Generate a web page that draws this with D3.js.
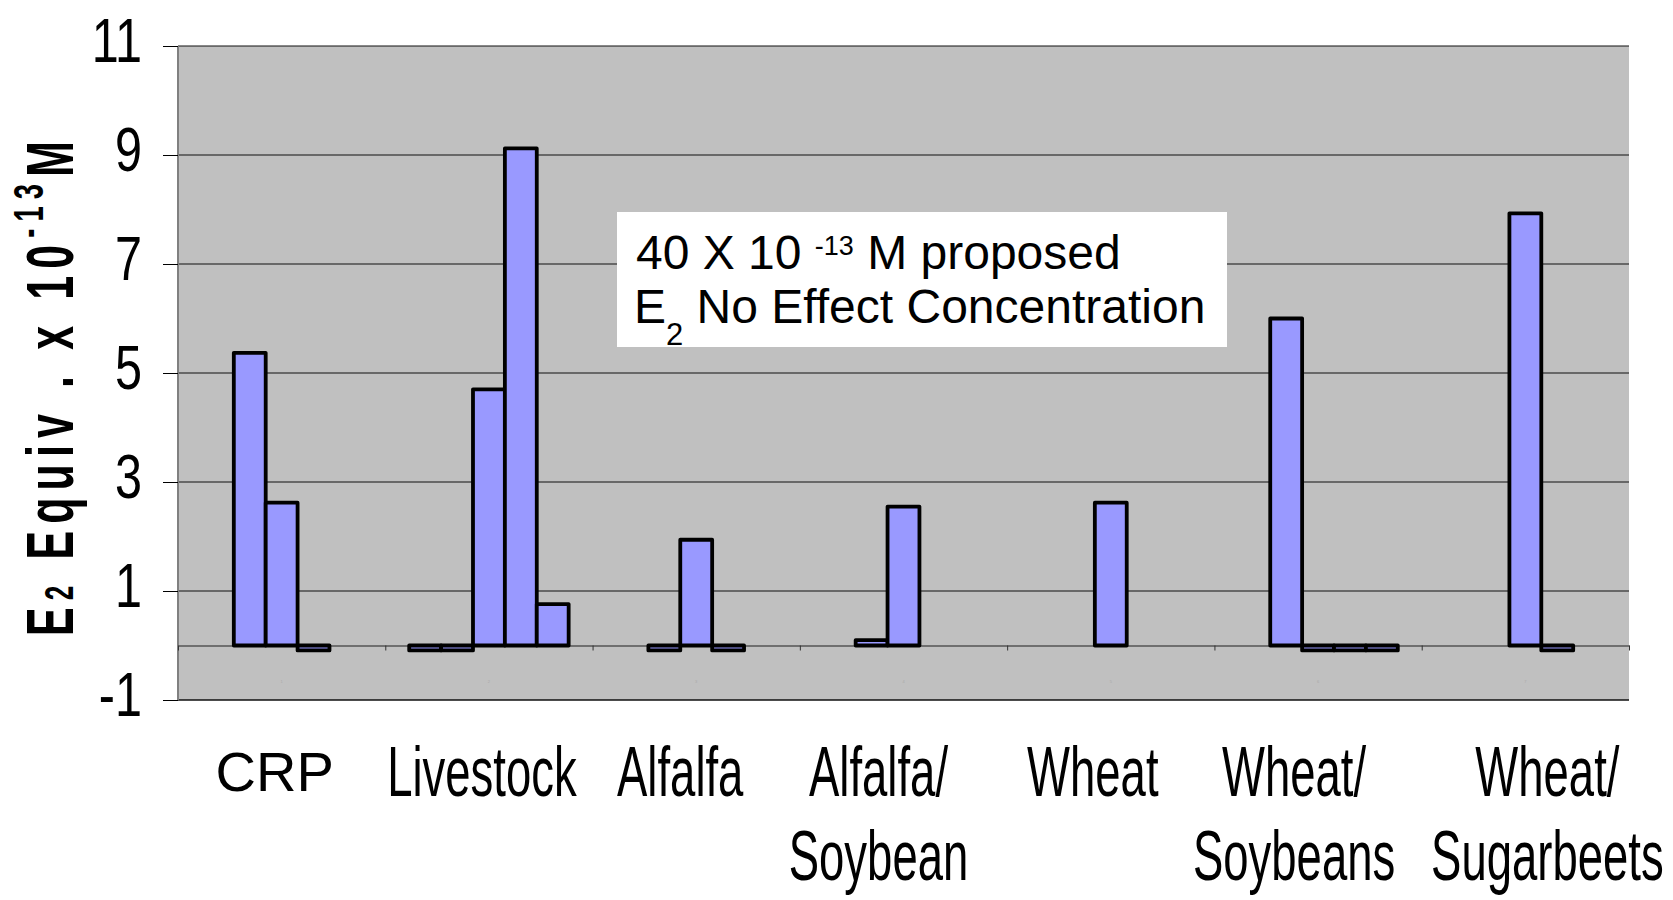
<!DOCTYPE html>
<html>
<head>
<meta charset="utf-8">
<script src="https://cdn.jsdelivr.net/npm/d3@7/dist/d3.min.js"></script>
<style>
    body { margin: 0; background: #fff; }
    text { font-family: "Liberation Sans", Arial, sans-serif; }
</style>
</head>
<body>
<div id="chart"></div>
<script>
// categories along the bottom, one entry per cluster
var categories = ["CRP", "Livestock", "Alfalfa", "Alfalfa/\nSoybean", "Wheat", "Wheat/\nSoybeans", "Wheat/\nSugarbeets"];

// five sample series, null = no bar in that slot
var sample1 = [null, -0.09, null, null, null, null, null];
var sample2 = [5.37, -0.09, -0.09, 0.10, null, 6.0, null];
var sample3 = [2.62, 4.70, 1.94, 2.55, 2.62, -0.09, 7.93];
var sample4 = [-0.09, 9.12, -0.09, null, null, -0.09, -0.09];
var sample5 = [null, 0.76, null, null, null, -0.09, null];

var yTicks = [-1, 1, 3, 5, 7, 9, 11];

var noteLine1 = ["40 X 10 ", "-13", " M proposed"];
var noteLine2 = ["E", "2", " No Effect Concentration"];

// hand placed label nudges (px) like the text boxes of the original
var labelNudge = [-7, -7, -16, -25, -18, -24, 22];

var margin = { top: 46, right: 44, bottom: 200, left: 178 },
    width = 1673 - margin.left - margin.right,
    height = 900 - margin.top - margin.bottom;

var allSeries = [sample1, sample2, sample3, sample4, sample5];

var svg = d3.select("#chart").append("svg")
    .attr("width", 1673)
    .attr("height", 900);

var g = svg.append("g")
    .attr("transform", "translate(" + margin.left + "," + margin.top + ")");

var y = d3.scaleLinear()
    .domain([-1, 11])
    .range([height, 0]);

var x0 = d3.scaleBand()
    .domain(d3.range(categories.length))
    .range([0, width]);

// excel style gap: 150% of a bar split on both sides
var x1 = d3.scaleBand()
    .domain(d3.range(allSeries.length))
    .range([0, x0.bandwidth()])
    .paddingInner(0)
    .paddingOuter(0.75);

var xLin = d3.scaleLinear()
    .domain([0, categories.length])
    .range([0, width]);

// plot background
g.append("rect")
    .attr("width", width)
    .attr("height", height)
    .attr("fill", "#c0c0c0");

// gridlines
g.selectAll(".grid")
    .data(yTicks)
    .enter().append("line")
    .attr("class", "grid")
    .attr("x1", 0)
    .attr("x2", width)
    .attr("y1", function(d) { return y(d); })
    .attr("y2", function(d) { return y(d); })
    .attr("stroke", "#111")
    .attr("stroke-width", function(d) { return d == -1 ? 1.5 : 1; });

// left edge of plot area
g.append("line")
    .attr("x1", 0).attr("x2", 0)
    .attr("y1", 0).attr("y2", height)
    .attr("stroke", "#808080")
    .attr("stroke-width", 2);

// y axis ticks + labels
var yAxis = d3.axisLeft(y)
    .tickValues(yTicks)
    .tickSize(15)
    .tickSizeOuter(0)
    .tickFormat(function(d) { return String(d); });

var yG = g.append("g")
    .attr("class", "axis axis--y")
    .call(yAxis);

yG.select(".domain").remove();
yG.selectAll(".tick line").attr("stroke", "#000");
yG.selectAll(".tick text")
    .attr("x", null)
    .attr("dy", null)
    .attr("fill", "#000")
    .attr("text-anchor", "end")
    .style("font-size", "63px")
    .attr("transform", "translate(-36,15) scale(0.77,1)");

// category axis sitting on zero
var xAxis = d3.axisBottom(xLin)
    .tickValues(d3.range(categories.length + 1))
    .tickSize(5)
    .tickSizeOuter(0)
    .tickFormat("");

var xG = g.append("g")
    .attr("class", "axis axis--x")
    .attr("transform", "translate(0," + y(0) + ")")
    .call(xAxis);

xG.select(".domain").attr("stroke", "#555").attr("stroke-width", 1.5);
xG.selectAll(".tick line").attr("stroke", "#333");

// tiny leftover category numbers
g.selectAll(".catnum")
    .data(categories)
    .enter().append("text")
    .attr("class", "catnum")
    .attr("x", function(d, i) { return x0(i) + x0.bandwidth() / 2; })
    .attr("y", y(0) + 37)
    .attr("text-anchor", "middle")
    .style("font-size", "4px")
    .attr("fill", "#aaa")
    .text(function(d, i) { return i + 1; });

// bars
var barData = [];
allSeries.forEach(function(s, si) {
    s.forEach(function(v, ci) {
        if (v !== null) barData.push({ series: si, cat: ci, value: v });
    });
});

g.selectAll(".bar")
    .data(barData)
    .enter().append("rect")
    .attr("class", "bar")
    .attr("x", function(d) { return x0(d.cat) + x1(d.series); })
    .attr("width", x1.bandwidth())
    .attr("y", function(d) { return y(Math.max(0, d.value)); })
    .attr("height", function(d) { return Math.abs(y(d.value) - y(0)); })
    .attr("fill", "#9999ff")
    .attr("stroke", "#000")
    .attr("stroke-width", 3.8)
    .attr("stroke-linejoin", "round");

// note box
svg.append("rect")
    .attr("x", 617)
    .attr("y", 212)
    .attr("width", 610)
    .attr("height", 135)
    .attr("fill", "#fff");

var n1 = svg.append("text")
    .attr("x", 636)
    .attr("y", 269)
    .style("font-size", "48px");
n1.append("tspan").text(noteLine1[0]);
n1.append("tspan").attr("dy", -14).style("font-size", "27px").text(noteLine1[1]);
n1.append("tspan").attr("dy", 14).text(noteLine1[2]);

var n2 = svg.append("text")
    .attr("x", 634)
    .attr("y", 323)
    .style("font-size", "48px");
n2.append("tspan").text(noteLine2[0]);
n2.append("tspan").attr("dy", 22).style("font-size", "31px").text(noteLine2[1]);
n2.append("tspan").attr("dy", -22).text(noteLine2[2]);

// y axis title, bold, narrow and spread out
var yTitle = svg.append("text")
    .attr("transform", "translate(73,385) rotate(-90) scale(0.65,1)")
    .attr("text-anchor", "middle")
    .style("font-size", "66px")
    .style("font-weight", "bold")
    .style("letter-spacing", "11px");
yTitle.append("tspan").text("E");
yTitle.append("tspan").style("font-size", "40px").text("2");
yTitle.append("tspan").text(" Equiv . x 10");
yTitle.append("tspan").attr("dy", -30).style("font-size", "42px").text("-13");
yTitle.append("tspan").attr("dy", 30).text("M");

// category labels
categories.forEach(function(c, i) {
    var cx = margin.left + x0(i) + x0.bandwidth() / 2 + labelNudge[i];
    var lines = c.split("\n");
    var narrow = (c != "CRP");
    lines.forEach(function(line, li) {
        svg.append("text")
            .attr("class", "catlabel")
            .attr("transform", "translate(" + cx + "," + (narrow ? 796 + li * 84 : 791) + ")" +
                (narrow ? " scale(0.65,1)" : ""))
            .attr("text-anchor", "middle")
            .style("font-size", narrow ? "70px" : "56px")
            .text(line);
    });
});
</script>
</body>
</html>
